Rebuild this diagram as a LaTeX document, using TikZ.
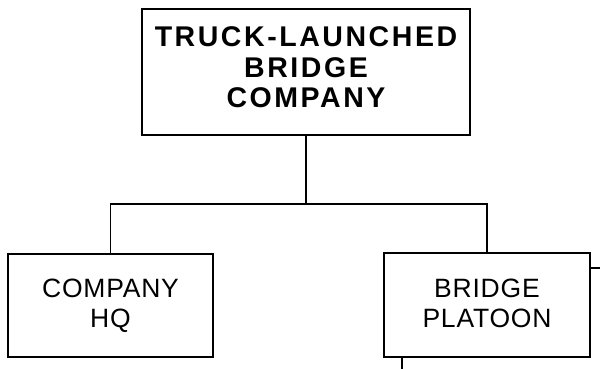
\documentclass[tikz,border=0pt]{standalone}
\usepackage{fontspec}
\setmainfont{Liberation Sans}
\newfontfamily\unitbold[LetterSpace=9]{Liberation Sans Bold}
\newfontfamily\unitreg[LetterSpace=3]{Liberation Sans}
\usetikzlibrary{positioning,calc}
\begin{document}
\begin{tikzpicture}[x=1pt, y=-1pt, line width=1.9pt,
    unitbox/.style={draw, align=center, inner sep=0pt, text depth=4pt},
    every node/.style={font=\unitreg\fontsize{26.5}{30}\selectfont}]
  \useasboundingbox (0,0) rectangle (600,369);
  % company and its two elements
  \node[unitbox, minimum width=328pt, minimum height=126pt, text depth=9pt,
        font=\unitbold\fontsize{28.5}{30.5}\selectfont] (coy) at (306,72)
        {TRUCK-LAUNCHED\\BRIDGE\\COMPANY};
  \node[unitbox, minimum width=205pt, minimum height=103pt] (hq) at (110.5,305.5)
        {COMPANY\\HQ};
  \node[unitbox, minimum width=206pt, minimum height=104pt] (plt) at (487,305)
        {BRIDGE\\PLATOON};
  % connectors
  \coordinate (bus) at (306,204);
  \draw (coy.south) -- (bus);
  \draw (hq.north) |- (bus) -| (plt.north);
  % stubs running off the page
  \coordinate (rstub) at (600,268);
  \coordinate (bstub) at (402,369);
  \draw (plt.east |- rstub) -- (rstub);
  \draw (bstub |- plt.south) -- (bstub);
\end{tikzpicture}
\end{document}
